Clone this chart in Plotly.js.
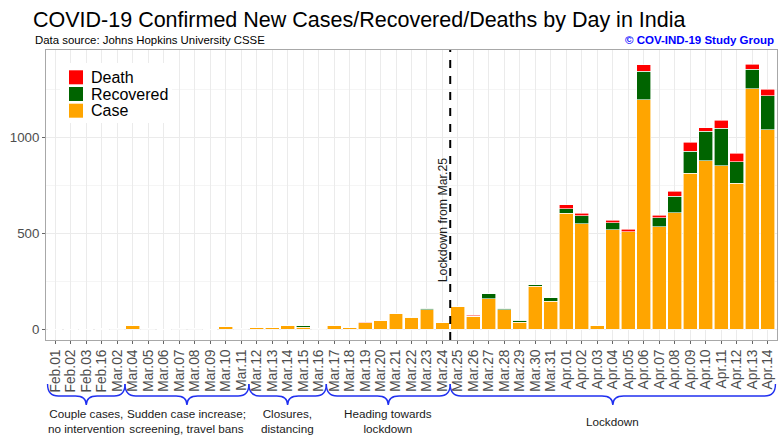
<!DOCTYPE html>
<html>
<head>
<meta charset="utf-8">
<script src="https://cdn.plot.ly/plotly-3.0.1.min.js"></script>
<style>html,body{margin:0;padding:0;background:#fff;}#chart{width:778px;height:441px;}</style>
</head>
<body>
<div id="chart"></div>
<script>
const categories = ['Feb.01','Feb.02','Feb.03','Feb.16','Mar.02','Mar.04','Mar.05','Mar.06','Mar.07','Mar.08','Mar.09','Mar.10','Mar.11','Mar.12','Mar.13','Mar.14','Mar.15','Mar.16','Mar.17','Mar.18','Mar.19','Mar.20','Mar.21','Mar.22','Mar.23','Mar.24','Mar.25','Mar.26','Mar.27','Mar.28','Mar.29','Mar.30','Mar.31','Apr.01','Apr.02','Apr.03','Apr.04','Apr.05','Apr.06','Apr.07','Apr.08','Apr.09','Apr.10','Apr.11','Apr.12','Apr.13','Apr.14'];
const caseVals = [1,1,1,0,2,22,2,1,2,2,1,13,2,10,7,20,10,2,21,11,35,47,83,63,101,34,119,69,159,102,37,225,146,604,549,21,518,507,1196,535,607,814,878,852,762,1252,1039];
const recoveredVals = [0,0,0,3,0,0,0,0,0,0,0,0,0,0,0,0,8,0,0,0,0,0,0,0,9,0,0,0,27,8,9,6,19,24,42,0,37,0,147,47,85,113,153,196,112,103,177];
const deathVals = [0,0,0,0,0,0,0,0,0,0,0,0,0,1,0,1,0,0,1,0,1,0,0,2,0,1,1,5,0,0,0,0,0,21,13,0,12,14,35,12,27,48,20,41,42,25,34];
const seriesNames = ['Case','Recovered','Death'];
const seriesColors = ['#FFA500','#006400','#FF0000'];
const yTicks = [0,500,1000];
const periods = [
  {from:'Feb.01', to:'Mar.02', text:'Couple cases,<br>no intervention'},
  {from:'Mar.04', to:'Mar.11', text:'Sudden case increase;<br>screening, travel bans'},
  {from:'Mar.12', to:'Mar.16', text:'Closures,<br>distancing'},
  {from:'Mar.17', to:'Mar.24', text:'Heading towards<br>lockdown'},
  {from:'Mar.25', to:'Apr.14', text:'Lockdown'}
];
const lockdownStart = 'Mar.25';

const FONT = 'Liberation Sans, Arial, Helvetica, sans-serif';
const W = 778, H = 441;
const M = {l:46, r:1, t:50, b:101};
const plotW = W - M.l - M.r, plotH = H - M.t - M.b;
const py = p => (H - M.b - p) / plotH;   // pixel y -> paper y
const pxp = p => (p - M.l) / plotW;      // pixel x -> paper x

const seriesVals = [caseVals, recoveredVals, deathVals];
const traces = seriesNames.map((n,i) => ({
  type:'bar', name:n, x:categories, y:seriesVals[i],
  marker:{color:seriesColors[i], line:{color:'white', width:0.6}},
  showlegend:false, hoverinfo:'x+y+name'
}));

const shapes = [];
const annotations = [];

// lockdown line
const lx = categories.indexOf(lockdownStart) - 0.5;
shapes.push({type:'line', xref:'x', yref:'paper', x0:lx, x1:lx, y0:0, y1:1,
  line:{color:'black', width:2, dash:'8px,8px'}, layer:'above'});
annotations.push({xref:'x', yref:'y', x:lx, y:569, text:'Lockdown from Mar.25', textangle:-90,
  showarrow:false, xanchor:'center', yanchor:'middle', xshift:-7,
  font:{family:FONT, size:12.3, color:'#1A1A1A'}});

// braces
const yTop = py(384), yMid = py(396), yTip = py(405);
periods.forEach(p => {
  const x0 = categories.indexOf(p.from) - 0.5;
  const x1 = categories.indexOf(p.to) + 0.5;
  const xc = (x0 + x1) / 2;
  const r = 0.7;
  const path = `M ${x0},${yTop} Q ${x0},${yMid} ${x0+r},${yMid} L ${xc-r},${yMid} Q ${xc},${yMid} ${xc},${yTip} Q ${xc},${yMid} ${xc+r},${yMid} L ${x1-r},${yMid} Q ${x1},${yMid} ${x1},${yTop}`;
  shapes.push({type:'path', xref:'x', yref:'paper', path:path, line:{color:'#2030F0', width:1.4}});
  const multi = p.text.indexOf('<br>') >= 0;
  annotations.push({xref:'x', yref:'paper', x:xc, y: multi ? py(405) : py(422),
    yanchor: multi ? 'top' : 'middle', xanchor:'center', showarrow:false, text:p.text,
    font:{family:FONT, size:11.7, color:'#1A1A1A'}});
});

// legend (manual)
shapes.push({type:'rect', xref:'paper', yref:'paper', x0:pxp(60), x1:pxp(172), y0:py(123), y1:py(63),
  fillcolor:'white', line:{width:0}, layer:'above'});
const legendOrder = [2,1,0];
const legendCenters = [77.3, 94, 110.7];
legendOrder.forEach((si,k) => {
  const cy = legendCenters[k];
  shapes.push({type:'rect', xref:'paper', yref:'paper', x0:pxp(69), x1:pxp(83), y0:py(cy+7), y1:py(cy-7),
    fillcolor:seriesColors[si], line:{width:0}, layer:'above'});
  annotations.push({xref:'paper', yref:'paper', x:pxp(89), y:py(cy), xanchor:'left', yanchor:'middle',
    showarrow:false, text:seriesNames[si],
    font:{family:FONT, size:16, color:'black'}});
});

// subtitle and credit
annotations.push({xref:'paper', yref:'paper', x:pxp(33), y:py(40), xanchor:'left', yanchor:'middle', showarrow:false,
  text:'Data source: Johns Hopkins University CSSE', font:{family:FONT, size:11.4, color:'black'}});
annotations.push({xref:'paper', yref:'paper', x:pxp(776), y:py(40), xanchor:'right', yanchor:'middle', showarrow:false,
  text:'<b>© COV-IND-19 Study Group</b>', font:{family:FONT, size:11.5, color:'#0000FF'}});

const layout = {
  width:W, height:H, margin:M, paper_bgcolor:'white', plot_bgcolor:'white',
  barmode:'stack', bargap:0.1,
  title:{text:'COVID-19 Confirmed New Cases/Recovered/Deaths by Day in India', x:33/W, xref:'container', xanchor:'left',
    y:1-19/H, yref:'container', yanchor:'middle', font:{family:FONT, size:21.5, color:'black'}},
  xaxis:{type:'category', categoryorder:'array', categoryarray:categories, range:[-0.6, categories.length-0.4],
    tickmode:'array', tickvals:categories, ticktext:categories,
    tickangle:-90, ticks:'outside', ticklen:3, tickcolor:'#666', tickfont:{family:FONT, size:13.8, color:'#4D4D4D'},
    showgrid:true, gridcolor:'#EBEBEB', gridwidth:1, showline:true, mirror:true, linecolor:'#A8A8A8', linewidth:1,
    zeroline:false, fixedrange:true},
  yaxis:{range:[-55.7, 1454.7], tickvals:yTicks, ticktext:yTicks.map(String), ticks:'outside', ticklen:3, tickcolor:'#666',
    tickfont:{family:FONT, size:13.3, color:'#4D4D4D'}, showgrid:true, gridcolor:'#EBEBEB', gridwidth:1,
    minor:{tickvals:[250,750,1250], showgrid:true, gridcolor:'#F5F5F5', ticks:''},
    showline:true, mirror:true, linecolor:'#A8A8A8', linewidth:1, zeroline:false, fixedrange:true},
  shapes:shapes, annotations:annotations, showlegend:false
};
Plotly.newPlot('chart', traces, layout, {displayModeBar:false, staticPlot:true});
</script>
</body>
</html>
